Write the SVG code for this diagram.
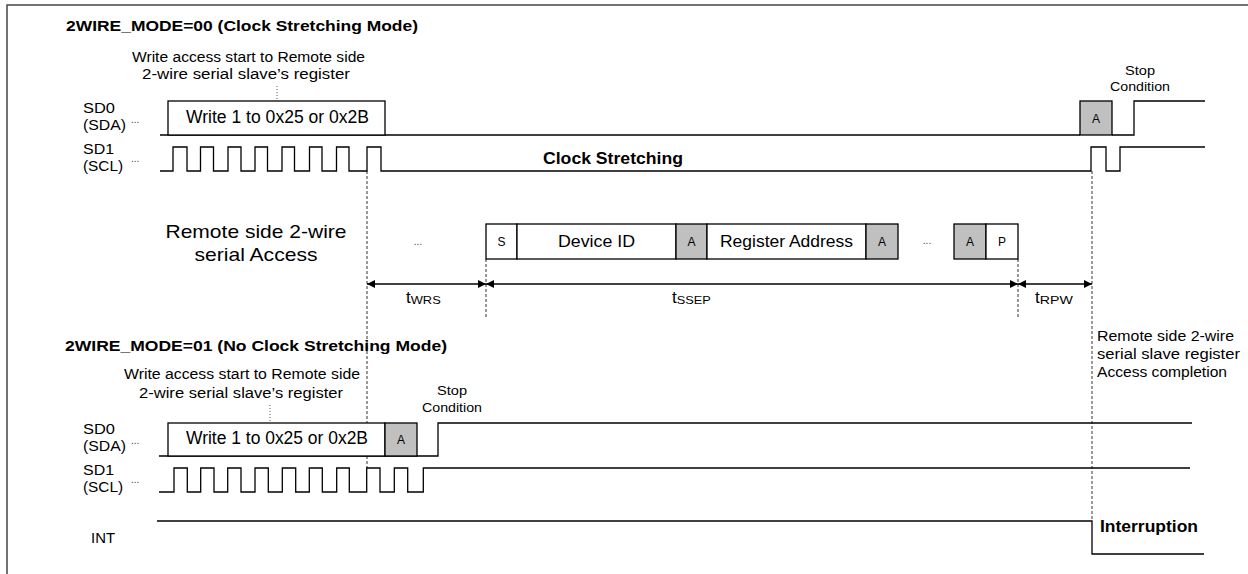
<svg xmlns="http://www.w3.org/2000/svg" width="1248" height="574" viewBox="0 0 1248 574">
<defs>
<style>
.ln{fill:none;stroke:#000;stroke-width:1.3}
.box{fill:#fff;stroke:#000;stroke-width:1.3}
.ack{fill:#c0c0c0;stroke:#000;stroke-width:1.3}
.dash{fill:none;stroke:#333;stroke-width:1;stroke-dasharray:3 2}
.dot{fill:none;stroke:#555;stroke-width:1;stroke-dasharray:1 2}
.arr{fill:none;stroke:#000;stroke-width:1.3;marker-start:url(#ah);marker-end:url(#ah)}
text{font-family:"Liberation Sans",Arial,sans-serif;fill:#000}
.b{font-weight:bold}
.s14{font-size:14px}
.s13{font-size:13px}
.s12{font-size:12px}
.el{font-size:10px;fill:#444}
</style>
<marker id="ah" viewBox="0 0 10 10" refX="10" refY="5" markerWidth="8" markerHeight="8" orient="auto-start-reverse" markerUnits="userSpaceOnUse"><path d="M0,0 L10,5 L0,10 z" fill="#000"/></marker>
</defs>
<rect width="1248" height="574" fill="#fff"/>
<path d="M7,574 V5 H1248" fill="none" stroke="#444" stroke-width="1.5"/>

<g id="connectors">
<path class="dash" d="M367,171 V468"/>
<path class="dash" d="M1092,171 V521"/>
<path class="dash" d="M486,259 V317"/>
<path class="dash" d="M1018,259 V317"/>
<path class="dot" d="M277,86 V100"/>
<path class="dot" d="M270,405 V422"/>
<path class="arr" d="M367,284 H486"/>
<path class="arr" d="M486,284 H1018"/>
<path class="arr" d="M1018,284 H1092"/>
</g>

<g id="mode00">
<text class="b" x="66" y="31" style="font-size:15px" textLength="352" lengthAdjust="spacingAndGlyphs">2WIRE_MODE=00 (Clock Stretching Mode)</text>
<text class="s14" x="132" y="62" textLength="233" lengthAdjust="spacingAndGlyphs">Write access start to Remote side</text>
<text class="s14" x="142" y="79" textLength="208" lengthAdjust="spacingAndGlyphs">2-wire serial  slave’s register</text>
<g id="sda-top">
<text class="s14" x="83" y="113" textLength="32" lengthAdjust="spacingAndGlyphs">SD0</text>
<text class="s14" x="83" y="130" textLength="43" lengthAdjust="spacingAndGlyphs">(SDA)</text>
<text class="el" x="131" y="123">...</text>
<path class="ln" d="M160,135 H1080"/>
<rect class="box" x="168" y="101" width="217" height="34"/>
<text x="186" y="123" style="font-size:18px" textLength="183" lengthAdjust="spacingAndGlyphs">Write 1 to 0x25 or 0x2B</text>
<rect class="ack" x="1080" y="101" width="32" height="34"/>
<text class="s12" x="1096" y="123" text-anchor="middle">A</text>
<path class="ln" d="M1112,135 H1134 V101 H1205"/>
<text class="s13" x="1140" y="75" text-anchor="middle" textLength="30" lengthAdjust="spacingAndGlyphs">Stop</text>
<text class="s13" x="1140" y="91" text-anchor="middle" textLength="60" lengthAdjust="spacingAndGlyphs">Condition</text>
</g>
<g id="scl-top">
<text class="s14" x="83" y="154" textLength="31" lengthAdjust="spacingAndGlyphs">SD1</text>
<text class="s14" x="83" y="171" textLength="40" lengthAdjust="spacingAndGlyphs">(SCL)</text>
<text class="el" x="131" y="162">...</text>
<path class="ln" d="M160,171 H173 V147 H187 V171 H200.5 V147 H213.5 V171 H228 V147 H241 V171 H255 V147 H267.5 V171 H282 V147 H294.5 V171 H309.5 V147 H322 V171 H336.5 V147 H349 V171 H367 V147 H381 V171 H1091 V147 H1106 V171 H1120 V147 H1205"/>
<text class="b" x="543" y="164" style="font-size:16px" textLength="140" lengthAdjust="spacingAndGlyphs">Clock Stretching</text>
</g>
</g>

<g id="remote-access">
<text x="256" y="238" text-anchor="middle" style="font-size:19px" textLength="181" lengthAdjust="spacingAndGlyphs">Remote side 2-wire</text>
<text x="256" y="261" text-anchor="middle" style="font-size:19px" textLength="123" lengthAdjust="spacingAndGlyphs">serial Access</text>
<text class="el" x="418" y="245" text-anchor="middle">...</text>
<rect class="box" x="486" y="224" width="31" height="35"/>
<text class="s12" x="501.5" y="246" text-anchor="middle">S</text>
<rect class="box" x="517" y="224" width="159" height="35"/>
<text x="596.5" y="247" text-anchor="middle" style="font-size:16px" textLength="77" lengthAdjust="spacingAndGlyphs">Device ID</text>
<rect class="ack" x="676" y="224" width="31" height="35"/>
<text class="s12" x="691.5" y="246" text-anchor="middle">A</text>
<rect class="box" x="707" y="224" width="159" height="35"/>
<text x="786.5" y="247" text-anchor="middle" style="font-size:16px" textLength="133" lengthAdjust="spacingAndGlyphs">Register Address</text>
<rect class="ack" x="866" y="224" width="32" height="35"/>
<text class="s12" x="882" y="246" text-anchor="middle">A</text>
<text class="el" x="927" y="244" text-anchor="middle">...</text>
<rect class="ack" x="954" y="224" width="32" height="35"/>
<text class="s12" x="970" y="246" text-anchor="middle">A</text>
<rect class="box" x="986" y="224" width="32" height="35"/>
<text class="s12" x="1002" y="246" text-anchor="middle">P</text>
<text x="406" y="303" style="font-size:17px">t<tspan style="font-size:11px" dy="1" textLength="30" lengthAdjust="spacingAndGlyphs">WRS</tspan></text>
<text x="672" y="303" style="font-size:17px">t<tspan style="font-size:11px" dy="1" textLength="34" lengthAdjust="spacingAndGlyphs">SSEP</tspan></text>
<text x="1035" y="303" style="font-size:17px">t<tspan style="font-size:11px" dy="1" textLength="33" lengthAdjust="spacingAndGlyphs">RPW</tspan></text>
<text class="s14" x="1097" y="341" textLength="137" lengthAdjust="spacingAndGlyphs">Remote side 2-wire</text>
<text class="s14" x="1097" y="359" textLength="143" lengthAdjust="spacingAndGlyphs">serial slave register</text>
<text class="s14" x="1097" y="377" textLength="130" lengthAdjust="spacingAndGlyphs">Access completion</text>
</g>

<g id="mode01">
<text class="b" x="65" y="351" style="font-size:15px" textLength="382" lengthAdjust="spacingAndGlyphs">2WIRE_MODE=01 (No Clock Stretching Mode)</text>
<text class="s14" x="124" y="379" textLength="236" lengthAdjust="spacingAndGlyphs">Write access start to Remote side</text>
<text class="s14" x="139" y="398" textLength="204" lengthAdjust="spacingAndGlyphs">2-wire serial  slave’s register</text>
<g id="sda-bottom">
<text class="s14" x="83" y="434" textLength="32" lengthAdjust="spacingAndGlyphs">SD0</text>
<text class="s14" x="83" y="451" textLength="43" lengthAdjust="spacingAndGlyphs">(SDA)</text>
<text class="el" x="131" y="444">...</text>
<path class="ln" d="M159,456 H438 V423 H1192"/>
<rect class="box" x="168" y="423" width="217" height="33"/>
<text x="186" y="444" style="font-size:18px" textLength="182" lengthAdjust="spacingAndGlyphs">Write 1 to 0x25 or 0x2B</text>
<rect class="ack" x="385" y="423" width="32" height="33"/>
<text class="s12" x="401" y="444" text-anchor="middle">A</text>
<text class="s13" x="452" y="395" text-anchor="middle" textLength="30" lengthAdjust="spacingAndGlyphs">Stop</text>
<text class="s13" x="452" y="412" text-anchor="middle" textLength="60" lengthAdjust="spacingAndGlyphs">Condition</text>
</g>
<g id="scl-bottom">
<text class="s14" x="83" y="475" textLength="31" lengthAdjust="spacingAndGlyphs">SD1</text>
<text class="s14" x="83" y="492" textLength="40" lengthAdjust="spacingAndGlyphs">(SCL)</text>
<text class="el" x="131" y="483">...</text>
<path class="ln" d="M159,492 H174 V468 H187.3 V492 H200.7 V468 H214 V492 H227.7 V468 H241 V492 H255 V468 H268.3 V492 H282.3 V468 H295.7 V492 H309.3 V468 H322.3 V492 H336.7 V468 H349.3 V492 H366.7 V468 H380 V492 H394.3 V468 H407.7 V492 H423.3 V468 H1190"/>
</g>
<g id="int">
<text class="s14" x="91" y="543" textLength="24" lengthAdjust="spacingAndGlyphs">INT</text>
<path class="ln" d="M157,521 H1092 V554 H1204"/>
<text class="b" x="1100" y="532" style="font-size:17px" textLength="98" lengthAdjust="spacingAndGlyphs">Interruption</text>
</g>
</g>
</svg>
